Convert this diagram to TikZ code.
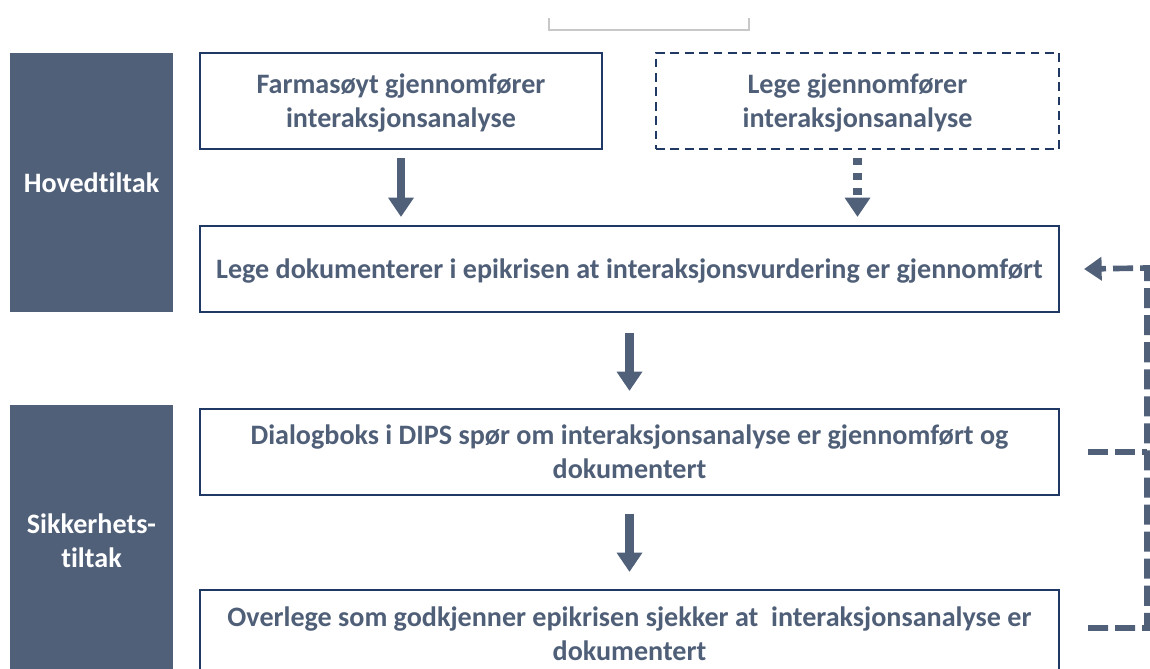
\documentclass[tikz,border=0pt]{standalone}
\usepackage{fontspec}
\setmainfont[Ligatures={NoCommon}]{Carlito}
\usetikzlibrary{arrows.meta}
\usetikzlibrary{calc}

\begin{document}
\begin{tikzpicture}[x=0.02cm, y=-0.02cm,
  stepbox/.style={draw=navyline, line width=1.2pt, fill=white, text=slatetext,
    font=\bfseries\fontsize{16}{19.5}\selectfont, align=center, inner sep=0pt, text depth=0pt},
  sidebox/.style={fill=slatefill, text=white,
    font=\bfseries\fontsize{16}{19.5}\selectfont, align=center, inner sep=0pt},
  flow/.style={draw=slatefill, line width=5pt, -{Triangle[width=14pt, length=11pt]}},
  flowdot/.style={flow, dash pattern=on 4pt off 4.5pt},
  feedback/.style={draw=slatefill, line width=3.2pt, dash pattern=on 11.4pt off 4pt}]

%─────────────
% Controls
%─────────────
\def\px{0.02cm}  % one pixel of the reference
\definecolor{navyline}{RGB}{31,56,100}    % box border
\definecolor{slatefill}{RGB}{80,96,121}   % side boxes and arrows
\definecolor{slatetext}{RGB}{80,95,120}   % box text
\definecolor{bracketgray}{RGB}{200,200,200}

\clip (0,0) rectangle (1150,669);

%─────────────
% Top bracket
%─────────────
\draw[bracketgray, line width=0.8pt] (549,18) -- (549,30) -- (749,30) -- (749,18);

%─────────────
% Side labels
%─────────────
\node[sidebox, minimum width=163*\px, minimum height=259*\px] (hoved) at (91.5,182.5) {Hovedtiltak};
\node[sidebox, minimum width=163*\px, minimum height=272*\px] (sikker) at (91.5,541) {Sikkerhets-\\tiltak};

%─────────────
% Steps
%─────────────
\node[stepbox, minimum width=402*\px, minimum height=96*\px] (farma) at (401,101)
  {Farmasøyt gjennomfører\\interaksjonsanalyse};
\node[stepbox, dash pattern=on 5pt off 3.2pt, minimum width=403*\px, minimum height=96*\px] (legeA) at (857.5,101)
  {Lege gjennomfører\\interaksjonsanalyse};
\node[stepbox, minimum width=859*\px, minimum height=86*\px] (dok) at (629.5,269)
  {Lege dokumenterer i epikrisen at interaksjonsvurdering er gjennomført};
\node[stepbox, minimum width=859*\px, minimum height=86*\px] (dialog) at (629.5,452)
  {Dialogboks i DIPS spør om interaksjonsanalyse er gjennomført og\\dokumentert};
\node[stepbox, minimum width=859*\px, minimum height=88*\px] (overlege) at (629.5,634)
  {Overlege som godkjenner epikrisen sjekker at \ interaksjonsanalyse er\\dokumentert};

%─────────────
% Arrows down
%─────────────
\draw[flow, shorten <=8*\px, shorten >=8*\px] (farma.south) -- (farma.south |- dok.north);
\draw[flowdot, shorten <=8*\px, shorten >=8*\px] (legeA.south) -- (legeA.south |- dok.north);
\draw[flow, shorten <=20*\px, shorten >=17*\px] (dok.south) -- (dialog.north);
\draw[flow, shorten <=18*\px, shorten >=17*\px] (dialog.south) -- (overlege.north);

%─────────────
% Feedback loop on the right
%─────────────
\coordinate (fbturn) at (1147,268);
\draw[feedback, -{Triangle[width=13pt, length=10pt]}]
  ([xshift=28*\px, yshift=6*\px]overlege.east) -| (fbturn) -- ([xshift=24*\px]dok.east);
\draw[feedback] ([xshift=28*\px]dialog.east) -- (dialog.east -| fbturn);

\end{tikzpicture}
\end{document}
